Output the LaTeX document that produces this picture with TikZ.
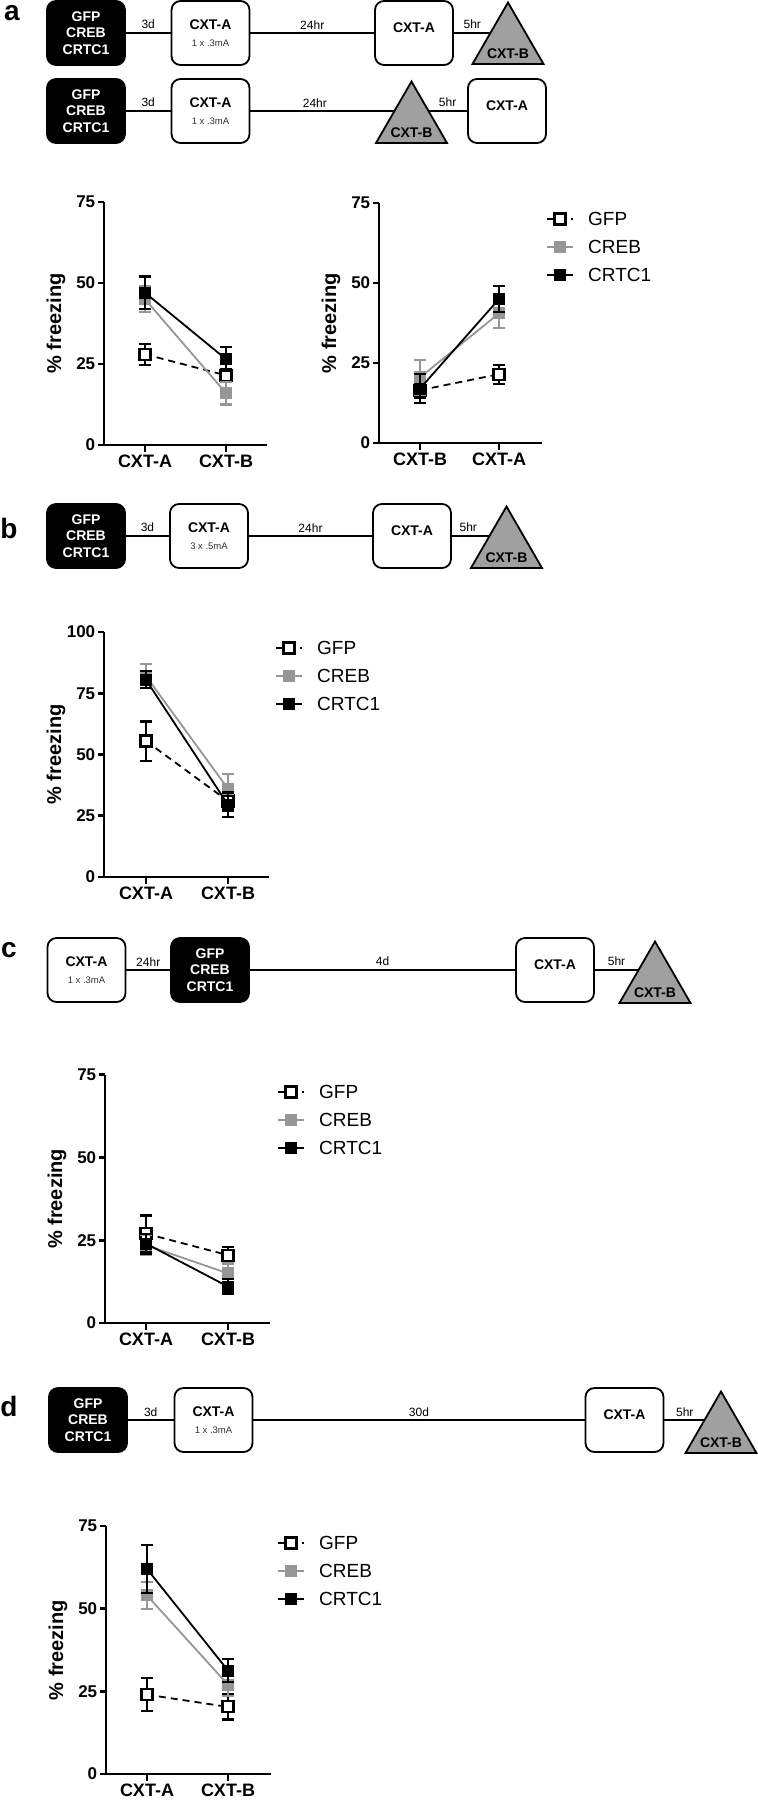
\documentclass[tikz,border=0pt]{standalone}
\usepackage{fontspec}
\setmainfont{Liberation Sans}
\usetikzlibrary{shapes.geometric,backgrounds}

\definecolor{crebgray}{RGB}{150,150,150}
\definecolor{shockgray}{RGB}{160,160,160}

\newcommand{\sz}[1]{\fontsize{#1}{#1}\selectfont}
\newcommand{\shockamp}[1]{{\normalfont\sz{9.5}\color{black!80}#1}}

\tikzset{
  ctx/.style={draw, line width=1.8pt, rounded corners=9pt, fill=white,
    minimum width=78pt, minimum height=64pt, inner sep=0pt, align=center,
    font=\bfseries\sz{14}},
  virus/.style={ctx, fill=black, text=white,
    font=\bfseries\fontsize{14}{16.5}\selectfont},
  shock/.style={regular polygon, regular polygon sides=3, draw, line width=1.8pt,
    fill=shockgray, minimum size=82pt, inner sep=0pt},
  shocklabel/.style={anchor=south, inner sep=0pt, label distance=-6pt,
    font=\bfseries\sz{14}},
  gap/.style={line width=1.8pt},
  gaplabel/.style={midway, above=3pt, inner sep=0pt, font=\sz{12}},
  panel/.style={font=\bfseries\sz{28}},
  axis/.style={line width=2.6pt},
  ticklabel/.style={left, inner sep=1.5pt, font=\bfseries\sz{17}},
  catlabel/.style={below, inner sep=2pt, font=\bfseries\sz{18}},
  ytitle/.style={rotate=90, font=\bfseries\sz{20}},
  legtext/.style={anchor=west, inner sep=0pt, font=\sz{19}},
  gfpline/.style={black, line width=1.8pt, dash pattern=on 7pt off 5pt},
  crebline/.style={crebgray, line width=1.8pt},
  crtcline/.style={black, line width=1.8pt},
  gfpmark/.style={draw=black, fill=white, line width=2.2pt},
  crebmark/.style={draw=crebgray, fill=crebgray, line width=1pt},
  crtcmark/.style={draw=black, fill=black, line width=1pt}
}

% axes of one freezing plot: ymax, length, x of left tick, its label, x of right tick, its label
\newcommand{\freezeaxes}[6]{%
  \draw[axis] (0,#1) -- (0,0) -- (#2,0);
  \foreach \v in {0,25,...,#1}
    \draw[axis] (0,\v) -- +(-6pt,0) node[ticklabel]{\v};
  \draw[axis] (#3,0) -- +(0,-7pt) node[catlabel]{#4};
  \draw[axis] (#5,0) -- +(0,-7pt) node[catlabel]{#6};
  \node[ytitle] at (-48,#1/2) {\% freezing};
}
% one error bar: colour, x, mean, sem
\newcommand{\drawerr}[4]{%
  \draw[#1, line width=2.2pt] (#2,#3-#4) -- (#2,#3+#4)
    (#2,#3-#4) +(-6pt,0) -- +(6pt,0)
    (#2,#3+#4) +(-6pt,0) -- +(6pt,0);
}
% one group: line style, mark style, bar colour, x1, y1, e1, x2, y2, e2
\newcommand{\drawgroup}[9]{%
  \draw[#1] (#4,#5) -- (#7,#8);
  \drawerr{#3}{#4}{#5}{#6}%
  \drawerr{#3}{#7}{#8}{#9}%
  \draw[#2] (#4,#5) +(-5.5pt,-5.5pt) rectangle +(5.5pt,5.5pt);
  \draw[#2] (#7,#8) +(-5.5pt,-5.5pt) rectangle +(5.5pt,5.5pt);
}
% legend: name prefix, x of marks, y of first row
\newcommand{\freezelegend}[3]{%
  \draw[gfpline] (#2-13,#3) -- (#2+13,#3);
  \draw[gfpmark] (#2,#3) +(-5.5pt,-5.5pt) rectangle +(5.5pt,5.5pt);
  \node[legtext] (#1gfp) at (#2+28,#3) {GFP};
  \draw[crebline] (#2-13,#3+28) -- (#2+13,#3+28);
  \draw[crebmark] (#2,#3+28) +(-5.5pt,-5.5pt) rectangle +(5.5pt,5.5pt);
  \node[legtext] (#1creb) at (#2+28,#3+28) {CREB};
  \draw[crtcline] (#2-13,#3+56) -- (#2+13,#3+56);
  \draw[crtcmark] (#2,#3+56) +(-5.5pt,-5.5pt) rectangle +(5.5pt,5.5pt);
  \node[legtext] (#1crtc) at (#2+28,#3+56) {CRTC1};
}

\begin{document}
\begin{tikzpicture}[x=1pt,y=-1pt]
\useasboundingbox (0,0) rectangle (758,1800);

% Panel a: two schedules
\node[panel] (lbla) at (12,13) {a};
\node[virus] (a1v) at (86,33) {GFP\\CREB\\CRTC1};
\node[ctx] (a1t) at (210.5,33) {CXT-A\\[3pt]\shockamp{1 x .3mA}};
\node[ctx] (a1r) at (414,33) {\raisebox{10pt}{CXT-A}};
\node[shock, label={[shocklabel]south:CXT-B}] (a1s) at (508,43.5) {};

\node[virus] (a2v) at (86,111) {GFP\\CREB\\CRTC1};
\node[ctx] (a2t) at (210.5,111) {CXT-A\\[3pt]\shockamp{1 x .3mA}};
\node[shock, label={[shocklabel]south:CXT-B}] (a2s) at (411.5,122.5) {};
\node[ctx] (a2r) at (507,111) {\raisebox{10pt}{CXT-A}};

% Panel b: schedule
\node[panel] (lblb) at (9,528) {b};
\node[virus] (bv) at (86,536) {GFP\\CREB\\CRTC1};
\node[ctx] (bt) at (209,536) {CXT-A\\[3pt]\shockamp{3 x .5mA}};
\node[ctx] (br) at (412,536) {\raisebox{10pt}{CXT-A}};
\node[shock, label={[shocklabel]south:CXT-B}] (bs) at (506.5,547.5) {};

% Panel c: schedule
\node[panel] (lblc) at (9,950) {c};
\node[ctx] (ct) at (86.5,970) {CXT-A\\[3pt]\shockamp{1 x .3mA}};
\node[virus] (cv) at (210,970) {GFP\\CREB\\CRTC1};
\node[ctx] (cr) at (555,970) {\raisebox{10pt}{CXT-A}};
\node[shock, label={[shocklabel]south:CXT-B}] (cs) at (655,982.5) {};

% Panel d: schedule
\node[panel] (lbld) at (9,1406) {d};
\node[virus] (dv) at (88,1420) {GFP\\CREB\\CRTC1};
\node[ctx] (dt) at (213.5,1420) {CXT-A\\[3pt]\shockamp{1 x .3mA}};
\node[ctx] (dr) at (624.5,1420) {\raisebox{10pt}{CXT-A}};
\node[shock, label={[shocklabel]south:CXT-B}] (ds) at (721,1432.5) {};

% time lines between sessions
\begin{pgfonlayer}{background}
\draw[gap] (a1v) -- (a1t) node[gaplabel]{3d};
\draw[gap] (a1t) -- (a1r) node[gaplabel]{24hr};
\draw[gap] (a1r) -- (a1r -| a1s) node[gaplabel, pos=0.34]{5hr};
\draw[gap] (a2v) -- (a2t) node[gaplabel]{3d};
\draw[gap] (a2t) -- (a2t -| a2s) node[gaplabel, pos=0.4]{24hr};
\draw[gap] (a2r) -- (a2r -| a2s) node[gaplabel, pos=0.35]{5hr};
\draw[gap] (bv) -- (bt) node[gaplabel]{3d};
\draw[gap] (bt) -- (br) node[gaplabel]{24hr};
\draw[gap] (br) -- (br -| bs) node[gaplabel, pos=0.3]{5hr};
\draw[gap] (ct) -- (cv) node[gaplabel]{24hr};
\draw[gap] (cv) -- (cr) node[gaplabel]{4d};
\draw[gap] (cr) -- (cr -| cs) node[gaplabel, pos=0.36]{5hr};
\draw[gap] (dv) -- (dt) node[gaplabel]{3d};
\draw[gap] (dt) -- (dr) node[gaplabel]{30d};
\draw[gap] (dr) -- (dr -| ds) node[gaplabel, pos=0.36]{5hr};
\end{pgfonlayer}

% Panel a: test A then B
\begin{scope}[shift={(104pt,-445pt)}, y=3.24pt]
  \freezeaxes{75}{163}{41}{CXT-A}{122}{CXT-B}
  \drawgroup{gfpline}{gfpmark}{black}{41}{28}{3.2}{122}{21.5}{2}
  \drawgroup{crebline}{crebmark}{crebgray}{41}{45}{4}{122}{16}{3.5}
  \drawgroup{crtcline}{crtcmark}{black}{41}{47}{5}{122}{26.5}{3.7}
\end{scope}
% Panel a: test B then A
\begin{scope}[shift={(379pt,-443pt)}, y=3.2pt]
  \freezeaxes{75}{163}{41}{CXT-B}{120}{CXT-A}
  \drawgroup{gfpline}{gfpmark}{black}{41}{16.5}{2.5}{120}{21.5}{3}
  \drawgroup{crebline}{crebmark}{crebgray}{41}{20.5}{5.5}{120}{40.5}{4.5}
  \drawgroup{crtcline}{crtcmark}{black}{41}{17}{4.5}{120}{45}{4}
\end{scope}
\freezelegend{la}{560}{219}

% Panel b
\begin{scope}[shift={(104pt,-877pt)}, y=2.45pt]
  \freezeaxes{100}{165}{42}{CXT-A}{124}{CXT-B}
  \drawgroup{gfpline}{gfpmark}{black}{42}{55.5}{8}{124}{31}{4}
  \drawgroup{crebline}{crebmark}{crebgray}{42}{82}{5}{124}{36}{6}
  \drawgroup{crtcline}{crtcmark}{black}{42}{80.5}{3.5}{124}{29.5}{5}
\end{scope}
\freezelegend{lb}{289}{648}

% Panel c
\begin{scope}[shift={(105pt,-1323pt)}, y=3.31pt]
  \freezeaxes{75}{165}{41}{CXT-A}{123}{CXT-B}
  \drawgroup{gfpline}{gfpmark}{black}{41}{27}{5.5}{123}{20.5}{2.5}
  \drawgroup{crebline}{crebmark}{crebgray}{41}{23.5}{3}{123}{15}{3}
  \drawgroup{crtcline}{crtcmark}{black}{41}{24}{3}{123}{11}{2.2}
\end{scope}
\freezelegend{lc}{291}{1092}

% Panel d
\begin{scope}[shift={(106pt,-1774pt)}, y=3.307pt]
  \freezeaxes{75}{165}{41}{CXT-A}{122}{CXT-B}
  \drawgroup{gfpline}{gfpmark}{black}{41}{24}{5}{122}{20.3}{3.8}
  \drawgroup{crebline}{crebmark}{crebgray}{41}{54}{4}{122}{27}{3.5}
  \drawgroup{crtcline}{crtcmark}{black}{41}{62}{7.2}{122}{31.3}{3.5}
\end{scope}
\freezelegend{ld}{291}{1543}

\end{tikzpicture}
\end{document}
